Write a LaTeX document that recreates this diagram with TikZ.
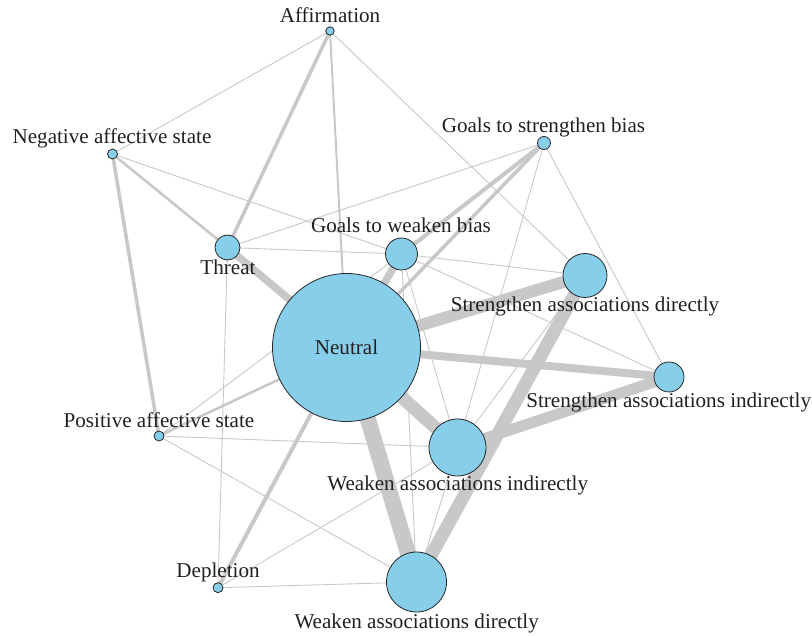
\documentclass[tikz,border=0pt]{standalone}
\usepackage{fontspec}
\setmainfont{Liberation Serif}
\usetikzlibrary{backgrounds}
\definecolor{nodefill}{HTML}{87CEEB}
\definecolor{edgegray}{HTML}{C8C8C8}
\definecolor{txt}{HTML}{231F20}
\begin{document}
\begin{tikzpicture}[x=1pt,y=-1pt,
  vert/.style={circle,draw=black!85,line width=0.8pt,fill=nodefill,inner sep=0pt,minimum size=2*#1},
  lab/.style={anchor=base,text=txt,font=\fontsize{21.1}{24}\selectfont,inner sep=0pt},
  edge/.style={draw=edgegray,line width=#1}]
\useasboundingbox (0,0) rectangle (812,636);
% vertices
\node[vert=4.2pt] (A) at (330,31) {};
\node[vert=5pt] (NAS) at (112.5,154) {};
\node[vert=6.5pt] (GSB) at (544,143) {};
\node[vert=12.5pt] (T) at (227.5,247.5) {};
\node[vert=16pt] (GWB) at (401.5,254) {};
\node[vert=22pt] (SAD) at (585,275.5) {};
\node[vert=74pt,font=\fontsize{21.1}{24}\selectfont,text=txt] (N) at (346.5,347.5) {Neutral};
\node[vert=15pt] (SAI) at (669,377) {};
\node[vert=5pt] (PAS) at (159,436) {};
\node[vert=28.5pt] (WAI) at (457.5,447.5) {};
\node[vert=5pt] (Dep) at (218,587.7) {};
\node[vert=30pt] (WAD) at (416.5,582) {};
% labels
\node[lab] (lA) at (330,23) {Affirmation};
\node[lab] (lNAS) at (112,144) {Negative affective state};
\node[lab] (lGSB) at (543.5,133) {Goals to strengthen bias};
\node[lab] (lT) at (228,275) {Threat};
\node[lab] (lGWB) at (401,233) {Goals to weaken bias};
\node[lab] (lSAD) at (585,311.5) {Strengthen associations directly};
\node[lab] (lSAI) at (668.7,407.3) {Strengthen associations indirectly};
\node[lab] (lPAS) at (159,428) {Positive affective state};
\node[lab] (lWAI) at (457.7,490) {Weaken associations indirectly};
\node[lab] (lDep) at (218,577.7) {Depletion};
\node[lab] (lWAD) at (416.7,628) {Weaken associations directly};
% edges
\begin{scope}[on background layer]
\draw[edge=0.9pt] (A.center) -- (NAS.center);
\draw[edge=3.5pt] (A.center) -- (T.center);
\draw[edge=2pt] (A.center) -- (N.center);
\draw[edge=0.9pt] (A.center) -- (SAD.center);
\draw[edge=2.5pt] (NAS.center) -- (T.center);
\draw[edge=3.5pt] (NAS.center) -- (PAS.center);
\draw[edge=0.9pt] (NAS.center) -- (GWB.center);
\draw[edge=0.9pt] (GSB.center) -- (T.center);
\draw[edge=4pt] (GSB.center) -- (GWB.center);
\draw[edge=3.5pt] (GSB.center) -- (N.center);
\draw[edge=0.9pt] (GSB.center) -- (SAI.center);
\draw[edge=0.9pt] (GSB.center) -- (WAI.center);
\draw[edge=0.9pt] (T.center) -- (GWB.center);
\draw[edge=7.5pt] (T.center) -- (N.center);
\draw[edge=0.9pt] (T.center) -- (Dep.center);
\draw[edge=7.5pt] (GWB.center) -- (N.center);
\draw[edge=0.9pt] (GWB.center) -- (SAD.center);
\draw[edge=0.9pt] (GWB.center) -- (SAI.center);
\draw[edge=0.9pt] (GWB.center) -- (WAI.center);
\draw[edge=0.9pt] (GWB.center) -- (WAD.center);
\draw[edge=0.9pt] (PAS.center) -- (GWB.center);
\draw[edge=2.5pt] (PAS.center) -- (N.center);
\draw[edge=0.9pt] (PAS.center) -- (WAI.center);
\draw[edge=0.9pt] (PAS.center) -- (WAD.center);
\draw[edge=12pt] (N.center) -- (SAD.center);
\draw[edge=8pt] (N.center) -- (SAI.center);
\draw[edge=13pt] (N.center) -- (WAI.center);
\draw[edge=16pt] (N.center) -- (WAD.center);
\draw[edge=4pt] (N.center) -- (Dep.center);
\draw[edge=13pt] (SAD.center) -- (WAD.center);
\draw[edge=0.9pt] (SAD.center) -- (WAI.center);
\draw[edge=11pt] (SAI.center) -- (WAI.center);
\draw[edge=0.9pt] (WAI.center) -- (WAD.center);
\draw[edge=0.9pt] (Dep.center) -- (WAI.center);
\draw[edge=0.9pt] (Dep.center) -- (WAD.center);
\end{scope}
\end{tikzpicture}
\end{document}
